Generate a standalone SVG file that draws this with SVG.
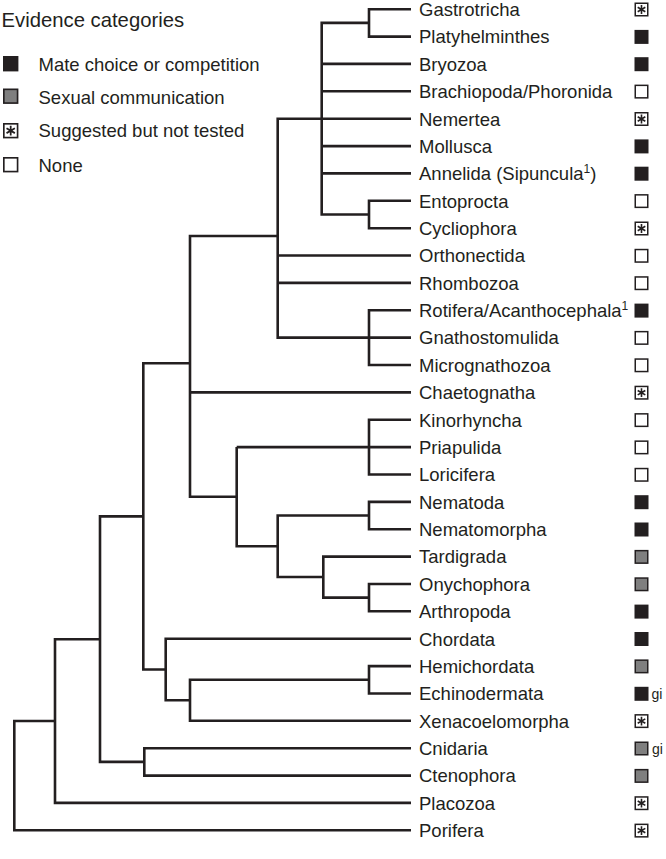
<svg xmlns="http://www.w3.org/2000/svg" xmlns:xlink="http://www.w3.org/1999/xlink" width="666" height="859" viewBox="0 0 666 859">
<style>
text{font-family:"Liberation Sans",Arial,sans-serif;fill:#231f20}
.lab{font-size:18.5px}
.gi{font-size:14px}
.ttl{font-size:20.3px}
.edge{fill:none;stroke:#231f20;stroke-width:2.6;stroke-linejoin:miter;stroke-linecap:butt}
.bk{fill:#231f20}
.gy{fill:#7f7f7f;stroke:#231f20;stroke-width:1.5}
.no{fill:#fff;stroke:#231f20;stroke-width:1.5}
.ast{fill:none;stroke:#231f20;stroke-width:1.6;stroke-linecap:butt}
</style>
<defs>
<g id="bBlack"><rect class="bk" x="0" y="0" width="14" height="14"/></g>
<g id="bGray"><rect class="gy" x="0.75" y="0.75" width="12.5" height="12.5"/></g>
<g id="bNone"><rect class="no" x="0.75" y="0.75" width="12.5" height="12.5"/></g>
<g id="bStar"><rect class="no" x="0.75" y="0.75" width="12.5" height="12.5"/><path class="ast" d="M7 2.6V11.4M3.2 4.8L10.8 9.2M3.2 9.2L10.8 4.8"/></g>
</defs>

<g id="legend">
<text class="ttl" x="1.5" y="27.3">Evidence categories</text>
<g id="leg-mate"><use xlink:href="#bBlack" transform="translate(3,56) scale(1.1)"/><text class="lab" x="38.5" y="71">Mate choice or competition</text></g>
<g id="leg-sexual"><use xlink:href="#bGray" transform="translate(3,88.5) scale(1.1)"/><text class="lab" x="38.5" y="104">Sexual communication</text></g>
<g id="leg-suggested"><use xlink:href="#bStar" transform="translate(3,123) scale(1.1)"/><text class="lab" x="38.5" y="137">Suggested but not tested</text></g>
<g id="leg-none"><use xlink:href="#bNone" transform="translate(3,157) scale(1.1)"/><text class="lab" x="38.5" y="172">None</text></g>
</g>

<g id="connectors">
<path class="edge" d="M411 9.2H369V36.6H411"/>
<path class="edge" d="M411 200.8H369V228.2H411"/>
<path class="edge" d="M369 22.9H321.7V214.5H369M321.7 63.9H411M321.7 91.3H411M321.7 146.1H411M321.7 173.4H411"/>
<path class="edge" d="M321.7 118.7H411"/>
<path class="edge" d="M411 310.3H369V365H411"/>
<path class="edge" d="M321.7 118.7H277.7V337.6H411M277.7 255.5H411M277.7 282.9H411"/>
<path class="edge" d="M277.7 236H190V496.7H236.7M190 392.4H411"/>
<path class="edge" d="M411 419.8H369V474.5H411M236.7 447.1H411"/>
<path class="edge" d="M236.7 447.1V546.3H277.7"/>
<path class="edge" d="M369 515.5H277.7V577H323.3"/>
<path class="edge" d="M411 501.9H369V529.2H411"/>
<path class="edge" d="M411 556.6H323.3V597.6H369"/>
<path class="edge" d="M411 584H369V611.3H411"/>
<path class="edge" d="M190 363.3H143.3V669.5H165.7"/>
<path class="edge" d="M411 638.7H165.7V700.3H190"/>
<path class="edge" d="M369 679.8H190V720.8H411"/>
<path class="edge" d="M411 666.1H369V693.5H411"/>
<path class="edge" d="M143.3 516.4H100V761.9H144.3"/>
<path class="edge" d="M411 748.2H144.3V775.6H411"/>
<path class="edge" d="M100 639.2H55V802.9H411"/>
<path class="edge" d="M55 721H14.3V830.3H411"/>
</g>

<g id="gastrotricha"><text class="lab" x="419" y="16">Gastrotricha</text><use xlink:href="#bStar" x="634.5" y="2.5"/></g>
<g id="platyhelminthes"><text class="lab" x="419" y="43.4">Platyhelminthes</text><use xlink:href="#bBlack" x="634.5" y="29.9"/></g>
<g id="bryozoa"><text class="lab" x="419" y="70.7">Bryozoa</text><use xlink:href="#bBlack" x="634.5" y="57.2"/></g>
<g id="brachiopoda"><text class="lab" x="419" y="98.1">Brachiopoda/Phoronida</text><use xlink:href="#bNone" x="634.5" y="84.6"/></g>
<g id="nemertea"><text class="lab" x="419" y="125.5">Nemertea</text><use xlink:href="#bStar" x="634.5" y="112"/></g>
<g id="mollusca"><text class="lab" x="419" y="152.9">Mollusca</text><use xlink:href="#bBlack" x="634.5" y="139.4"/></g>
<g id="annelida"><text class="lab" x="419" y="180.2">Annelida (Sipuncula<tspan font-size="12" dy="-7">1</tspan><tspan dy="7">)</tspan></text><use xlink:href="#bBlack" x="634.5" y="166.7"/></g>
<g id="entoprocta"><text class="lab" x="419" y="207.6">Entoprocta</text><use xlink:href="#bNone" x="634.5" y="194.1"/></g>
<g id="cycliophora"><text class="lab" x="419" y="235">Cycliophora</text><use xlink:href="#bStar" x="634.5" y="221.5"/></g>
<g id="orthonectida"><text class="lab" x="419" y="262.3">Orthonectida</text><use xlink:href="#bNone" x="634.5" y="248.8"/></g>
<g id="rhombozoa"><text class="lab" x="419" y="289.7">Rhombozoa</text><use xlink:href="#bNone" x="634.5" y="276.2"/></g>
<g id="rotifera"><text class="lab" x="419" y="317.1">Rotifera/Acanthocephala<tspan font-size="12" dy="-7">1</tspan></text><use xlink:href="#bBlack" x="634.5" y="303.6"/></g>
<g id="gnathostomulida"><text class="lab" x="419" y="344.4">Gnathostomulida</text><use xlink:href="#bNone" x="634.5" y="330.9"/></g>
<g id="micrognathozoa"><text class="lab" x="419" y="371.8">Micrognathozoa</text><use xlink:href="#bNone" x="634.5" y="358.3"/></g>
<g id="chaetognatha"><text class="lab" x="419" y="399.2">Chaetognatha</text><use xlink:href="#bStar" x="634.5" y="385.7"/></g>
<g id="kinorhyncha"><text class="lab" x="419" y="426.6">Kinorhyncha</text><use xlink:href="#bNone" x="634.5" y="413.1"/></g>
<g id="priapulida"><text class="lab" x="419" y="453.9">Priapulida</text><use xlink:href="#bNone" x="634.5" y="440.4"/></g>
<g id="loricifera"><text class="lab" x="419" y="481.3">Loricifera</text><use xlink:href="#bNone" x="634.5" y="467.8"/></g>
<g id="nematoda"><text class="lab" x="419" y="508.7">Nematoda</text><use xlink:href="#bBlack" x="634.5" y="495.2"/></g>
<g id="nematomorpha"><text class="lab" x="419" y="536">Nematomorpha</text><use xlink:href="#bBlack" x="634.5" y="522.5"/></g>
<g id="tardigrada"><text class="lab" x="419" y="563.4">Tardigrada</text><use xlink:href="#bGray" x="634.5" y="549.9"/></g>
<g id="onychophora"><text class="lab" x="419" y="590.8">Onychophora</text><use xlink:href="#bGray" x="634.5" y="577.3"/></g>
<g id="arthropoda"><text class="lab" x="419" y="618.1">Arthropoda</text><use xlink:href="#bBlack" x="634.5" y="604.6"/></g>
<g id="chordata"><text class="lab" x="419" y="645.5">Chordata</text><use xlink:href="#bBlack" x="634.5" y="632"/></g>
<g id="hemichordata"><text class="lab" x="419" y="672.9">Hemichordata</text><use xlink:href="#bGray" x="634.5" y="659.4"/></g>
<g id="echinodermata"><text class="lab" x="419" y="700.3">Echinodermata</text><use xlink:href="#bBlack" x="634.5" y="686.8"/><text class="gi" x="651.5" y="698.5">gi</text></g>
<g id="xenacoelomorpha"><text class="lab" x="419" y="727.6">Xenacoelomorpha</text><use xlink:href="#bStar" x="634.5" y="714.1"/></g>
<g id="cnidaria"><text class="lab" x="419" y="755">Cnidaria</text><use xlink:href="#bGray" x="634.5" y="741.5"/><text class="gi" x="652" y="753.5">gi</text></g>
<g id="ctenophora"><text class="lab" x="419" y="782.4">Ctenophora</text><use xlink:href="#bGray" x="634.5" y="768.9"/></g>
<g id="placozoa"><text class="lab" x="419" y="809.7">Placozoa</text><use xlink:href="#bStar" x="634.5" y="796.2"/></g>
<g id="porifera"><text class="lab" x="419" y="837.1">Porifera</text><use xlink:href="#bStar" x="634.5" y="823.6"/></g>
</svg>
